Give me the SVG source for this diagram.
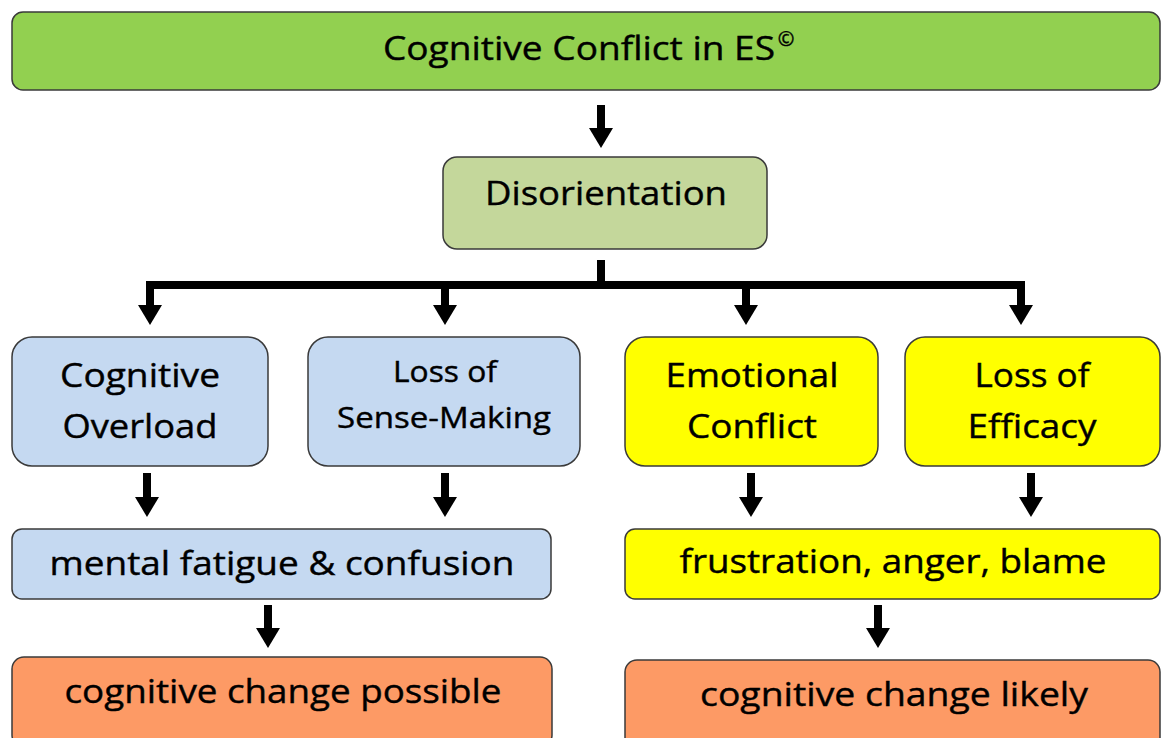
<svg xmlns="http://www.w3.org/2000/svg" width="1163" height="738" viewBox="0 0 1163 738">
<style>
.box{stroke:#3a3a3a;stroke-width:1.5}
.green{fill:#92d050}
.olive{fill:#c4d79b}
.blue{fill:#c5d9f1}
.yellow{fill:#ffff00}
.orange{fill:#fd9a65}
text{font-family:"Open Sans","Liberation Sans",sans-serif;fill:#000;stroke:#000;stroke-width:0.4;text-anchor:middle}
.t{font-size:33px}
.s{font-size:29px}
.conn{stroke:#000;stroke-width:8;fill:none}
</style>
<defs>
<marker id="ah" markerUnits="userSpaceOnUse" markerWidth="20" markerHeight="24" refX="0" refY="12" orient="auto" viewBox="0 0 20 24">
<path d="M0,0 L20,12 L0,24 Z" fill="#000"/>
</marker>
</defs>
<g id="connectors">
<line class="conn" x1="601" y1="105" x2="601" y2="128" marker-end="url(#ah)"/>
<line class="conn" x1="601" y1="260" x2="601" y2="289"/>
<line class="conn" x1="146" y1="285" x2="1025" y2="285"/>
<line class="conn" x1="150" y1="285" x2="150" y2="305" marker-end="url(#ah)"/>
<line class="conn" x1="445" y1="285" x2="445" y2="305" marker-end="url(#ah)"/>
<line class="conn" x1="746" y1="285" x2="746" y2="305" marker-end="url(#ah)"/>
<line class="conn" x1="1021" y1="285" x2="1021" y2="305" marker-end="url(#ah)"/>
<line class="conn" x1="147" y1="473" x2="147" y2="497" marker-end="url(#ah)"/>
<line class="conn" x1="445" y1="473" x2="445" y2="497" marker-end="url(#ah)"/>
<line class="conn" x1="751" y1="473" x2="751" y2="497" marker-end="url(#ah)"/>
<line class="conn" x1="1031" y1="473" x2="1031" y2="497" marker-end="url(#ah)"/>
<line class="conn" x1="268" y1="605" x2="268" y2="628" marker-end="url(#ah)"/>
<line class="conn" x1="878" y1="605" x2="878" y2="628" marker-end="url(#ah)"/>
</g>
<g id="top">
<rect class="box green" x="12" y="12" width="1148" height="78" rx="11"/>
<text class="t" x="579" y="60" textLength="392" lengthAdjust="spacingAndGlyphs">Cognitive Conflict in ES</text>
<text x="786" y="46" font-size="20">©</text>
</g>
<g id="disorientation">
<rect class="box olive" x="443" y="157" width="324" height="92" rx="14"/>
<text class="t" x="606" y="205" textLength="242" lengthAdjust="spacingAndGlyphs">Disorientation</text>
</g>
<g id="cognitive-overload">
<rect class="box blue" x="12" y="337" width="256" height="129" rx="20"/>
<text class="t" x="140" y="387" textLength="160" lengthAdjust="spacingAndGlyphs">Cognitive</text>
<text class="t" x="140" y="438" textLength="155" lengthAdjust="spacingAndGlyphs">Overload</text>
</g>
<g id="loss-sense-making">
<rect class="box blue" x="308" y="337" width="272" height="129" rx="20"/>
<text class="s" x="445" y="382" textLength="104" lengthAdjust="spacingAndGlyphs">Loss of</text>
<text class="s" x="444" y="428" textLength="214" lengthAdjust="spacingAndGlyphs">Sense-Making</text>
</g>
<g id="emotional-conflict">
<rect class="box yellow" x="625" y="337" width="253" height="129" rx="20"/>
<text class="t" x="752" y="387" textLength="173" lengthAdjust="spacingAndGlyphs">Emotional</text>
<text class="t" x="752" y="438" textLength="130" lengthAdjust="spacingAndGlyphs">Conflict</text>
</g>
<g id="loss-efficacy">
<rect class="box yellow" x="905" y="337" width="255" height="129" rx="20"/>
<text class="t" x="1032" y="387" textLength="115" lengthAdjust="spacingAndGlyphs">Loss of</text>
<text class="t" x="1032" y="438" textLength="129" lengthAdjust="spacingAndGlyphs">Efficacy</text>
</g>
<g id="mental-fatigue">
<rect class="box blue" x="12" y="529" width="539" height="70" rx="10"/>
<text class="t" x="282" y="575" textLength="465" lengthAdjust="spacingAndGlyphs">mental fatigue &amp; confusion</text>
</g>
<g id="frustration">
<rect class="box yellow" x="625" y="529" width="535" height="70" rx="10"/>
<text class="t" x="893" y="573" textLength="427" lengthAdjust="spacingAndGlyphs">frustration, anger, blame</text>
</g>
<g id="change-possible">
<rect class="box orange" x="12" y="657" width="540" height="90" rx="12"/>
<text class="t" x="283" y="703" textLength="437" lengthAdjust="spacingAndGlyphs">cognitive change possible</text>
</g>
<g id="change-likely">
<rect class="box orange" x="625" y="660" width="535" height="90" rx="12"/>
<text class="t" x="894" y="706" textLength="388" lengthAdjust="spacingAndGlyphs">cognitive change likely</text>
</g>
</svg>
